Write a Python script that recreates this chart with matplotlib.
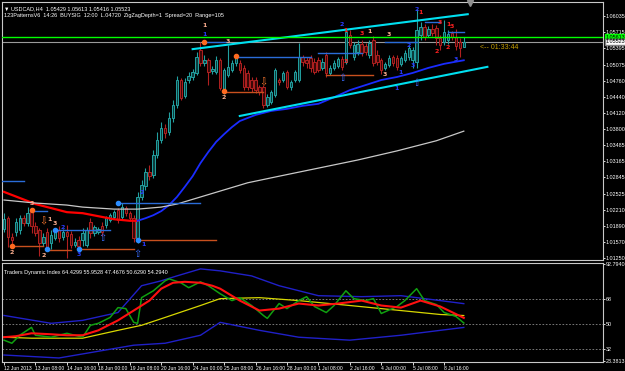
import matplotlib
matplotlib.use('Agg')
import matplotlib.pyplot as plt
import matplotlib.transforms as mtransforms
import numpy as np

# ---------------- data ----------------
opens = [1.0183, 1.0204, 1.0167, 1.0177, 1.0181, 1.0204, 1.0195, 1.0216, 1.0189, 1.0181,
         1.0155, 1.0177, 1.0155, 1.0165, 1.0181, 1.0167, 1.0177, 1.0173, 1.0151, 1.0161,
         1.0161, 1.0151, 1.0197, 1.0175, 1.0177, 1.0189, 1.0191, 1.0200, 1.0206, 1.0220,
         1.0206, 1.0224, 1.0214, 1.0204, 1.0165, 1.0246, 1.0268, 1.0295, 1.0289, 1.0329,
         1.0359, 1.0382, 1.0374, 1.0402, 1.0428, 1.0477, 1.0445, 1.0477, 1.0483, 1.0491,
         1.0536, 1.0511, 1.0516, 1.0495, 1.0493, 1.0516, 1.0453, 1.0487, 1.0497, 1.0511,
         1.0511, 1.0501, 1.0491, 1.0477, 1.0477, 1.0463, 1.0463, 1.0428, 1.0434, 1.0447,
         1.0477, 1.0477, 1.0493, 1.0463, 1.0477, 1.0477, 1.0522, 1.0516, 1.0520, 1.0513,
         1.0516, 1.0501, 1.0526, 1.0491, 1.0501, 1.0505, 1.0518, 1.0513, 1.0566, 1.0522,
         1.0532, 1.0548, 1.0544, 1.0526, 1.0556, 1.0526, 1.0516, 1.0501, 1.0507, 1.0522,
         1.0520, 1.0509, 1.0516, 1.0522, 1.0516, 1.0513, 1.0566, 1.0582, 1.0566, 1.0578,
         1.0580, 1.0560, 1.0552, 1.0556, 1.0570, 1.0562, 1.0552, 1.05429]
highs = [1.0214, 1.0208, 1.0175, 1.0204, 1.0210, 1.0210, 1.0226, 1.0224, 1.0197, 1.0185,
         1.0175, 1.0185, 1.0181, 1.0183, 1.0189, 1.0183, 1.0191, 1.0179, 1.0165, 1.0169,
         1.0185, 1.0187, 1.0204, 1.0191, 1.0187, 1.0197, 1.0208, 1.0214, 1.0220, 1.0224,
         1.0234, 1.0228, 1.0218, 1.0210, 1.0256, 1.0280, 1.0303, 1.0309, 1.0339, 1.0374,
         1.0394, 1.0390, 1.0414, 1.0437, 1.0485, 1.0481, 1.0481, 1.0493, 1.0499, 1.0532,
         1.0552, 1.0526, 1.0520, 1.0505, 1.0524, 1.0520, 1.0501, 1.0546, 1.0516, 1.0526,
         1.0516, 1.0507, 1.0497, 1.0483, 1.0483, 1.0467, 1.0467, 1.0449, 1.0457, 1.0501,
         1.0481, 1.0495, 1.0497, 1.0477, 1.0497, 1.0550, 1.0526, 1.0522, 1.0526, 1.0520,
         1.0522, 1.0520, 1.0532, 1.0507, 1.0516, 1.0522, 1.0524, 1.0580, 1.0576, 1.0552,
         1.0556, 1.0556, 1.0550, 1.0556, 1.0564, 1.0536, 1.0520, 1.0513, 1.0526, 1.0526,
         1.0526, 1.0524, 1.0536, 1.0546, 1.0542, 1.0617, 1.0592, 1.0588, 1.0584, 1.0588,
         1.0586, 1.0566, 1.0596, 1.0576, 1.0574, 1.0578, 1.0560, 1.05613]
lows = [1.0177, 1.0147, 1.0149, 1.0169, 1.0173, 1.0189, 1.0189, 1.0175, 1.0169, 1.0129,
        1.0149, 1.0141, 1.0143, 1.0161, 1.0157, 1.0161, 1.0126, 1.0145, 1.0147, 1.0143,
        1.0149, 1.0147, 1.0165, 1.0169, 1.0173, 1.0169, 1.0185, 1.0197, 1.0202, 1.0195,
        1.0200, 1.0208, 1.0199, 1.0157, 1.0155, 1.0240, 1.0260, 1.0280, 1.0284, 1.0323,
        1.0353, 1.0362, 1.0368, 1.0394, 1.0422, 1.0437, 1.0441, 1.0471, 1.0477, 1.0487,
        1.0505, 1.0505, 1.0467, 1.0489, 1.0489, 1.0457, 1.0449, 1.0483, 1.0493, 1.0505,
        1.0491, 1.0457, 1.0457, 1.0453, 1.0451, 1.0447, 1.0422, 1.0424, 1.0430, 1.0443,
        1.0467, 1.0473, 1.0459, 1.0457, 1.0473, 1.0473, 1.0505, 1.0501, 1.0493, 1.0489,
        1.0493, 1.0497, 1.0483, 1.0487, 1.0497, 1.0501, 1.0497, 1.0509, 1.0540, 1.0516,
        1.0526, 1.0524, 1.0526, 1.0520, 1.0505, 1.0507, 1.0489, 1.0497, 1.0503, 1.0505,
        1.0497, 1.0505, 1.0513, 1.0516, 1.0501, 1.0501, 1.0556, 1.0556, 1.0562, 1.0564,
        1.0546, 1.0536, 1.0546, 1.0548, 1.0556, 1.0536, 1.0522, 1.05416]
closes = [1.0202, 1.0167, 1.0161, 1.0197, 1.0204, 1.0195, 1.0214, 1.0189, 1.0175, 1.0155,
          1.0167, 1.0147, 1.0171, 1.0177, 1.0165, 1.0177, 1.0169, 1.0151, 1.0157, 1.0149,
          1.0175, 1.0181, 1.0175, 1.0187, 1.0183, 1.0177, 1.0204, 1.0210, 1.0216, 1.0200,
          1.0226, 1.0214, 1.0204, 1.0165, 1.0246, 1.0270, 1.0295, 1.0287, 1.0329, 1.0359,
          1.0382, 1.0372, 1.0402, 1.0428, 1.0477, 1.0441, 1.0473, 1.0485, 1.0493, 1.0522,
          1.0511, 1.0516, 1.0493, 1.0499, 1.0516, 1.0461, 1.0497, 1.0503, 1.0511, 1.0520,
          1.0497, 1.0463, 1.0463, 1.0461, 1.0457, 1.0453, 1.0428, 1.0443, 1.0453, 1.0497,
          1.0473, 1.0491, 1.0463, 1.0473, 1.0493, 1.0522, 1.0513, 1.0511, 1.0501, 1.0493,
          1.0497, 1.0513, 1.0491, 1.0501, 1.0511, 1.0518, 1.0503, 1.0572, 1.0546, 1.0546,
          1.0548, 1.0530, 1.0532, 1.0550, 1.0511, 1.0513, 1.0497, 1.0509, 1.0520, 1.0511,
          1.0503, 1.0520, 1.0530, 1.0540, 1.0536, 1.0576, 1.0582, 1.0562, 1.0578, 1.0570,
          1.0560, 1.0546, 1.0572, 1.0568, 1.0562, 1.0544, 1.0540, 1.05523]

date_bars = [0, 8, 16, 24, 32, 40, 48, 56, 64, 72, 80, 88, 96, 104, 112]
date_labels = ["12 Jun 2013", "13 Jun 08:00", "14 Jun 16:00", "18 Jun 00:00", "19 Jun 08:00",
               "20 Jun 16:00", "24 Jun 00:00", "25 Jun 08:00", "26 Jun 16:00", "28 Jun 00:00",
               "1 Jul 08:00", "2 Jul 16:00", "4 Jul 00:00", "5 Jul 08:00", "8 Jul 16:00"]
price_ticks = [1.06035, 1.05715, 1.05395, 1.05075, 1.04760, 1.04440, 1.04120, 1.03800,
               1.03485, 1.03165, 1.02845, 1.02525, 1.02210, 1.01890, 1.01570, 1.01250]

# moving averages (sampled bars)
ma_fast_bars = [0, 4, 8, 12, 16, 20, 24, 28, 32, 34, 36, 38, 40, 42, 44, 46, 48, 50, 52, 54,
                56, 58, 60, 64, 68, 72, 76, 80, 84, 88, 92, 96, 100, 104, 108, 112, 117]
ma_fast_vals = [1.0256, 1.0244, 1.0232, 1.0224, 1.0216, 1.0214, 1.0208, 1.0202, 1.0199, 1.0199,
                1.0204, 1.0210, 1.0218, 1.0230, 1.0246, 1.0266, 1.0287, 1.0313, 1.0335, 1.0355,
                1.0370, 1.0384, 1.0396, 1.0408, 1.0416, 1.0420, 1.0426, 1.0430, 1.0443, 1.0457,
                1.0467, 1.0477, 1.0483, 1.0491, 1.0501, 1.0509, 1.0516]
ma_turn_bar = 34
ma_slow_bars = [0, 8, 16, 20, 28, 34, 40, 44, 50, 56, 62, 70, 80, 90, 100, 110, 117]
ma_slow_vals = [1.0240, 1.0234, 1.0230, 1.0226, 1.0222, 1.0222, 1.0226, 1.0232, 1.0246, 1.0260,
                1.0274, 1.0287, 1.0303, 1.0319, 1.0337, 1.0357, 1.0376]

# trend channel (bar, price) end points
chan_upper_bars = [48, 118]
chan_upper_vals = [1.0538, 1.0607]
chan_lower_bars = [60, 123]
chan_lower_vals = [1.0406, 1.0503]

green_level = 1.05613
bid_price = 1.05523

# 123-pattern objects
dot_bars = [2, 7, 11, 13, 19, 29, 34, 51, 56, 59]
dot_prices = [1.0149, 1.0220, 1.0143, 1.0181, 1.0143, 1.0234, 1.0161, 1.0552, 1.0455, 1.0524]
dot_kinds = ['o', 'o', 'b', 'b', 'b', 'b', 'b', 'o', 'o', 'o']

seg_start = [-1, 2, 7, 11, 13, 19, 29, 34, 51, 56, 59, 80, 82, 97, 107, 113]
seg_end = [5, 10, 11, 17, 27, 33, 50, 54, 57, 66, 78, 91, 94, 105, 111, 117]
seg_price = [1.0278, 1.0149, 1.0218, 1.0141, 1.0181, 1.0143, 1.0234, 1.0161, 1.0552, 1.0453,
             1.0522, 1.0530, 1.0487, 1.0552, 1.0592, 1.0572]
seg_kind = ['b', 'o', 'b', 'o', 'b', 'o', 'b', 'o', 'b', 'o', 'b', 'b', 'o', 'b', 'b', 'b']

arrow_bars = [10, 25, 34, 66, 86, 105]
arrow_prices = [1.0197, 1.0165, 1.0134, 1.0473, 1.0481, 1.0471]
arrow_dirs = ['down', 'up', 'up', 'down', 'up', 'up']

lab_bars = [2, 7, 11.6, 13, 15, 10, 19, 35, 35.6, 51, 51, 57, 56, 86, 87, 87, 91, 93, 97, 98,
            101, 100, 103, 104, 105, 106, 111, 113, 114, 110, 113, 115]
lab_prices = [1.0137, 1.0233, 1.0201, 1.0193, 1.0185, 1.0131, 1.0133, 1.0254, 1.0152, 1.0584,
              1.0566, 1.0554, 1.0443, 1.0586, 1.0574, 1.0513, 1.0568, 1.0572, 1.0487, 1.0566,
              1.0491, 1.0461, 1.0546, 1.0505, 1.0616, 1.0611, 1.0590, 1.0586, 1.0582, 1.0534,
              1.0542, 1.0518]
lab_texts = ['2', '3', '1', '3', '2', '2', '3', '2', '1', '1',
             '1', '3', '2', '2', '1', '3', '3', '1', '3', '3',
             '1', '1', '2', '3', '2', '1', '3', '1', '3', '2',
             '2', '3']
lab_kind = ['s', 's', 's', 's', 'b', 's', 'b', 'b', 'b', 's',
            'b', 's', 's', 'b', 'r', 'r', 'r', 's', 's', 's',
            'b', 'b', 'b', 'b', 'b', 'r', 'r', 'r', 'r', 'r',
            'r', 'b']

# Traders Dynamic Index (sampled bars)
rsi_bars = [0, 2, 4, 7, 8, 12, 16, 20, 22, 24, 27, 29, 31, 33, 34, 35, 38, 41, 42, 45,
            47, 50, 52, 55, 58, 60, 63, 66, 67, 70, 72, 75, 77, 79, 82, 84, 87, 89, 92, 94,
            96, 100, 102, 105, 107, 110, 112, 115, 117]
rsi_vals = [38.4, 36.2, 41.9, 47.5, 41.9, 40.5, 43.3, 40.5, 49.0, 50.4, 54.6, 61.6, 60.9, 51.1,
            50.4, 68.7, 73.6, 80.7, 82.1, 79.3, 75.8, 80.0, 77.2, 71.5, 66.6, 68.7, 63.1, 56.0,
            53.9, 64.5, 60.9, 66.6, 69.4, 62.4, 58.1, 63.1, 73.6, 68.0, 66.6, 68.0, 57.4, 62.4,
            66.6, 75.1, 66.6, 63.8, 58.1, 55.3, 50.629]
sig_bars = [0, 3, 7, 12, 16, 20, 24, 29, 33, 37, 40, 43, 46, 50, 53, 55, 60, 65, 70, 75,
            80, 85, 91, 96, 101, 106, 111, 117]
sig_vals = [40.5, 41.2, 43.3, 42.6, 41.9, 41.9, 45.4, 52.5, 59.5, 66.6, 75.1, 79.3, 80.0, 79.3,
            77.2, 75.1, 66.6, 59.5, 60.9, 64.5, 63.1, 64.5, 66.6, 63.1, 61.6, 66.6, 62.4, 54.294]
base_bars = [0, 7, 20, 29, 35, 41, 50, 55, 65, 75, 88, 101, 111, 117]
base_vals = [40.5, 39.8, 39.8, 45.4, 49.0, 54.6, 63.1, 68.0, 68.7, 66.6, 63.1, 59.5, 56.7, 55.9528]
bandu_bars = [0, 12, 20, 29, 35, 40, 44, 50, 55, 63, 70, 80, 91, 101, 111, 117]
bandu_vals = [56.0, 50.4, 52.5, 58.1, 77.2, 80.7, 84.2, 89.2, 87.8, 84.2, 77.2, 70.1, 69.4,
              70.1, 66.6, 64.4299]
bandl_bars = [0, 14, 33, 41, 50, 55, 65, 75, 88, 101, 111, 117]
bandl_vals = [27.8, 25.7, 34.8, 36.2, 41.9, 51.1, 45.4, 40.5, 38.4, 41.9, 45.4, 47.4676]
tdi_levels = [68, 50, 32]
tdi_ticks = [92.794, 68, 50, 32, 23.3813]
tdi_ticklabels = ['92.7940', '68', '50', '32', '23.3813']

# ---------------- figure ----------------
W, H = 625, 371
fig = plt.figure(figsize=(W / 100, H / 100), dpi=100, facecolor='black')
FONT = 'Liberation Sans'
plt.rcParams['font.family'] = [FONT, 'DejaVu Sans']
FS = 3.9      # axis labels
FS_D = 3.6    # date labels
FS_T = 4.0    # titles

def fx(px):
    return px / W

def fy(py):
    return 1 - py / H

L, R = 2, 603
ax = fig.add_axes([fx(L), fy(260), fx(R - L), (260 - 2) / H])
ax2 = fig.add_axes([fx(L), fy(362), fx(R - L), (362 - 263) / H])

FRAME = '#c8c8c8'
XMIN, XMAX = -0.51, 152.42
for a in (ax, ax2):
    a.set_facecolor('black')
    for s in a.spines.values():
        s.set_color(FRAME)
        s.set_linewidth(0.8)
    a.set_xlim(XMIN, XMAX)

ax.set_ylim(1.01215, 1.06311)
ax2.set_ylim(22.83, 93.4)

# candles
o = np.array(opens); h = np.array(highs); l = np.array(lows); c = np.array(closes)
assert len(o) == len(h) == len(l) == len(c)
idx = np.arange(len(c))
up = c >= o
BULL, BEAR = '#22a0a0', '#b02020'
edge = np.where(up, BULL, BEAR)
face = np.where(up, '#0c3c3c', '#3a0808')
ax.vlines(idx, l, h, colors=edge, lw=0.8, zorder=3)
body_lo = np.minimum(o, c)
body_h = np.maximum(np.abs(c - o), 0.00006)
ax.bar(idx, body_h, bottom=body_lo, width=0.62, color=face, edgecolor=edge,
       linewidth=0.7, zorder=4)

# moving averages
mb = np.array(ma_fast_bars); mv = np.array(ma_fast_vals)
k = list(mb).index(ma_turn_bar)
ax.plot(mb[:k + 1], mv[:k + 1], color='#ff0000', lw=1.6, zorder=5)
ax.plot(mb[k:], mv[k:], color='#1a2cff', lw=1.3, zorder=5)
ax.plot(ma_slow_bars, ma_slow_vals, color='#c8c8c8', lw=0.9, zorder=5)

# channel
ax.plot(chan_upper_bars, chan_upper_vals, color='#00e0f0', lw=1.5, zorder=6)
ax.plot(chan_lower_bars, chan_lower_vals, color='#00e0f0', lw=1.5, zorder=6)

# horizontal lines
ax.axhline(green_level, color='#00ff00', lw=1.0, zorder=6)
ax.axhline(bid_price, color='#9a9a9a', lw=0.8, zorder=2)

# pattern objects
cmap_k = {'o': '#ff6a20', 'b': '#2a8cff'}
for b0, b1, p, kd in zip(seg_start, seg_end, seg_price, seg_kind):
    ax.plot([b0, b1], [p, p], color={'o': '#c8501e', 'b': '#2a6cd8'}[kd], lw=1.0, zorder=5)
for b, p, kd in zip(dot_bars, dot_prices, dot_kinds):
    ax.plot(b, p, 'o', ms=3, color=cmap_k[kd], zorder=7)
for b, p, d in zip(arrow_bars, arrow_prices, arrow_dirs):
    ax.text(b, p, '\u21e7' if d == 'up' else '\u21e9', color='#3a6cff' if d == 'up' else '#ff7a30',
            fontsize=7, ha='center', va='center', zorder=7, family='DejaVu Sans')
lab_col = {'s': '#ffb090', 'b': '#2a3cff', 'r': '#ff2020'}
for b, p, t, kd in zip(lab_bars, lab_prices, lab_texts, lab_kind):
    ax.text(b, p, t, color=lab_col[kd], fontsize=4.5, fontweight='bold', ha='center',
            va='center', zorder=8, family='DejaVu Sans')

# countdown text
ax.text(121, 1.0542, '<-- 01:33:44', color='#c8a000', fontsize=5.0, ha='left', va='center')
# chart shift marker
ax.plot(118.6, 1.0629, marker='v', ms=4, color='#909090', clip_on=False, zorder=8)

# titles
ax.text(0.003, 0.985, '\u25bc USDCAD,H4  1.05429 1.05613 1.05416 1.05523', transform=ax.transAxes,
        color='white', fontsize=FS_T, va='top', ha='left', family=[FONT, 'DejaVu Sans'])
ax.text(0.003, 0.958, '123PatternsV6  14:26  BUYSIG  12:00  L.04720  ZigZagDepth=1  Spread=20  Range=105',
        transform=ax.transAxes, color='white', fontsize=FS_T, va='top', ha='left')

# right price axis
ax.yaxis.tick_right()
ax.set_yticks(price_ticks)
ax.set_yticklabels([f'{t:.5f}' for t in price_ticks])
ax.tick_params(axis='y', colors='white', labelsize=FS, length=1.5, width=0.6, pad=0.6)
ax.set_xticks([])
trans = mtransforms.blended_transform_factory(ax.transAxes, ax.transData)
ax.text(1.0045, green_level, '1.05613', transform=trans, fontsize=FS, color='black',
        va='center', ha='left', bbox=dict(boxstyle='square,pad=0.1', fc='#00ff00', ec='#00ff00'))
ax.text(1.0045, bid_price, '1.05523', transform=trans, fontsize=FS, color='black',
        va='center', ha='left', bbox=dict(boxstyle='square,pad=0.1', fc='white', ec='#808080'))

# indicator panel
for lv in tdi_levels:
    ax2.axhline(lv, color='#8a8a8a', lw=0.6, ls=(0, (2, 2)))
ax2.plot(bandu_bars, bandu_vals, color='#2020c8', lw=1.0)
ax2.plot(bandl_bars, bandl_vals, color='#2020c8', lw=1.0)
ax2.plot(base_bars, base_vals, color='#d8d800', lw=0.9)
ax2.plot(rsi_bars, rsi_vals, color='#10a010', lw=1.1)
ax2.plot(sig_bars, sig_vals, color='#ff1010', lw=1.5)
ax2.text(0.004, 0.93, 'Traders Dynamic Index 64.4299 55.9528 47.4676 50.6290 54.2940',
         transform=ax2.transAxes, color='white', fontsize=FS_T, va='top', ha='left')
ax2.yaxis.tick_right()
ax2.set_yticks(tdi_ticks)
ax2.set_yticklabels(tdi_ticklabels)
ax2.tick_params(axis='y', colors='white', labelsize=FS, length=1.5, width=0.6, pad=0.6)
ax2.set_xticks(date_bars)
ax2.set_xticklabels(date_labels)
ax2.tick_params(axis='x', colors='white', labelsize=FS_D, length=2, width=0.6, pad=1)
for t in ax2.get_xticklabels():
    t.set_ha('left')

fig.savefig('out.png', dpi=100, facecolor='black')
